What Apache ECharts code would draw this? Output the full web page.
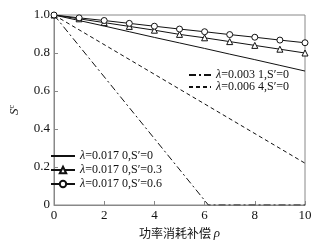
<!DOCTYPE html>
<html>
<head>
<meta charset="utf-8">
<script src="https://cdn.jsdelivr.net/npm/echarts@6/dist/echarts.min.js"></script>
<style>
  html, body { margin: 0; padding: 0; background: #fff; }
  #main { width: 324px; height: 245px; }
</style>
</head>
<body>
<div id="main"></div>
<script>
// 横轴：功率消耗补偿 rho
var rho = [0, 1, 2, 3, 4, 5, 6, 7, 8, 9, 10]
var xTicks = [0, 2, 4, 6, 8, 10]
var yTicks = [0, 0.2, 0.4, 0.6, 0.8, 1.0]

// lambda=0.0170 三条曲线
var sNone = [1.0, 0.971, 0.942, 0.912, 0.882, 0.853, 0.824, 0.794, 0.765, 0.735, 0.705]
var sTri = [1.0, 0.980, 0.960, 0.940, 0.920, 0.898, 0.880, 0.860, 0.840, 0.820, 0.800]
var sCir = [1.0, 0.985, 0.971, 0.956, 0.941, 0.926, 0.912, 0.897, 0.883, 0.868, 0.854]

// lambda=0.0031 / 0.0064
var dashDot = [[0, 1.0], [6.15, 0], [10, 0]]
var dashed = [[0, 1.0], [10, 0.22]]

var names = [
  '{l|λ}=0.003 1,S\u2032=0',
  '{l|λ}=0.006 4,S\u2032=0',
  '{l|λ}=0.017 0,S\u2032=0',
  '{l|λ}=0.017 0,S\u2032=0.3',
  '{l|λ}=0.017 0,S\u2032=0.6'
]

function pairs(xs, ys) {
  return xs.map(function (x, i) { return [x, ys[i]] })
}

var chart = echarts.init(document.getElementById('main'))
var serif = '"Liberation Serif", "DejaVu Serif", serif'
var ink = '#111'
var noMark = { color: 'rgba(0,0,0,0)', borderColor: 'rgba(0,0,0,0)', borderWidth: 0 }

function legendText(lh) {
  return {
    fontFamily: serif, fontSize: 12, color: ink, lineHeight: lh,
    rich: { l: { fontFamily: serif, fontStyle: 'italic', fontSize: 12, color: ink, lineHeight: lh } }
  }
}

var option = {
  animation: false,
  grid: { left: 43, right: 19, top: 15, bottom: 40, show: true, borderColor: '#888', borderWidth: 1 },
  legend: [
    {
      data: [
        { name: names[0], itemStyle: noMark },
        { name: names[1], itemStyle: noMark }
      ],
      left: 183, top: 64, orient: 'vertical', itemGap: 0,
      itemWidth: 22, itemHeight: 8,
      textStyle: legendText(12)
    },
    {
      data: [
        { name: names[2], itemStyle: noMark },
        names[3], names[4]
      ],
      left: 45, top: 144, orient: 'vertical', itemGap: 0,
      itemWidth: 24, itemHeight: 8,
      textStyle: legendText(14)
    }
  ],
  xAxis: {
    type: 'value', min: 0, max: 10, interval: 2,
    name: '功率消耗补偿 {i|ρ}', nameLocation: 'middle', nameGap: 18,
    nameTextStyle: {
      fontFamily: '"Noto Sans CJK SC", sans-serif', fontSize: 12, color: ink,
      rich: { i: { fontFamily: serif, fontStyle: 'italic', fontSize: 13, color: ink } }
    },
    axisLine: { lineStyle: { color: '#888' } },
    axisTick: { inside: true, length: 4, lineStyle: { color: '#888' } },
    axisLabel: { fontFamily: serif, fontSize: 13, color: ink, margin: 4,
      formatter: function (v) { return xTicks.indexOf(v) >= 0 ? String(v) : '' } },
    splitLine: { show: false }
  },
  yAxis: {
    type: 'value', min: 0, max: 1, interval: 0.2,
    name: '{s|S}{c|c}', nameLocation: 'middle', nameGap: 32, nameRotate: 90,
    nameTextStyle: {
      rich: {
        s: { fontFamily: serif, fontStyle: 'italic', fontSize: 13, color: ink },
        c: { fontFamily: serif, fontSize: 8, color: ink, verticalAlign: 'top', padding: [0, 0, 6, 0] }
      }
    },
    axisLine: { lineStyle: { color: '#888' } },
    axisTick: { inside: true, length: 4, lineStyle: { color: '#888' } },
    axisLabel: { fontFamily: serif, fontSize: 13, color: ink, margin: 4,
      formatter: function (v) {
        var t = yTicks.find(function (k) { return Math.abs(k - v) < 1e-6 })
        return t === 0 ? '0' : t.toFixed(1)
      } },
    splitLine: { show: false }
  },
  series: [
    {
      name: names[0], type: 'line', data: dashDot, showSymbol: false, symbol: 'none',
      lineStyle: { color: ink, width: 1, type: [7, 3, 2, 3] }, itemStyle: { color: ink }
    },
    {
      name: names[1], type: 'line', data: dashed, showSymbol: false, symbol: 'none',
      lineStyle: { color: ink, width: 1, type: [4, 3] }, itemStyle: { color: ink }
    },
    {
      name: names[2], type: 'line', data: pairs(rho, sNone), symbol: 'none',
      lineStyle: { color: ink, width: 1 }, itemStyle: { color: ink }
    },
    {
      name: names[3], type: 'line', data: pairs(rho, sTri), symbol: 'triangle', symbolSize: 6,
      lineStyle: { color: ink, width: 1 }, itemStyle: { color: '#fff', borderColor: ink, borderWidth: 1 }
    },
    {
      name: names[4], type: 'line', data: pairs(rho, sCir), symbol: 'circle', symbolSize: 6,
      lineStyle: { color: ink, width: 1 }, itemStyle: { color: '#fff', borderColor: ink, borderWidth: 1 }
    }
  ]
}

chart.setOption(option)
</script>
</body>
</html>
